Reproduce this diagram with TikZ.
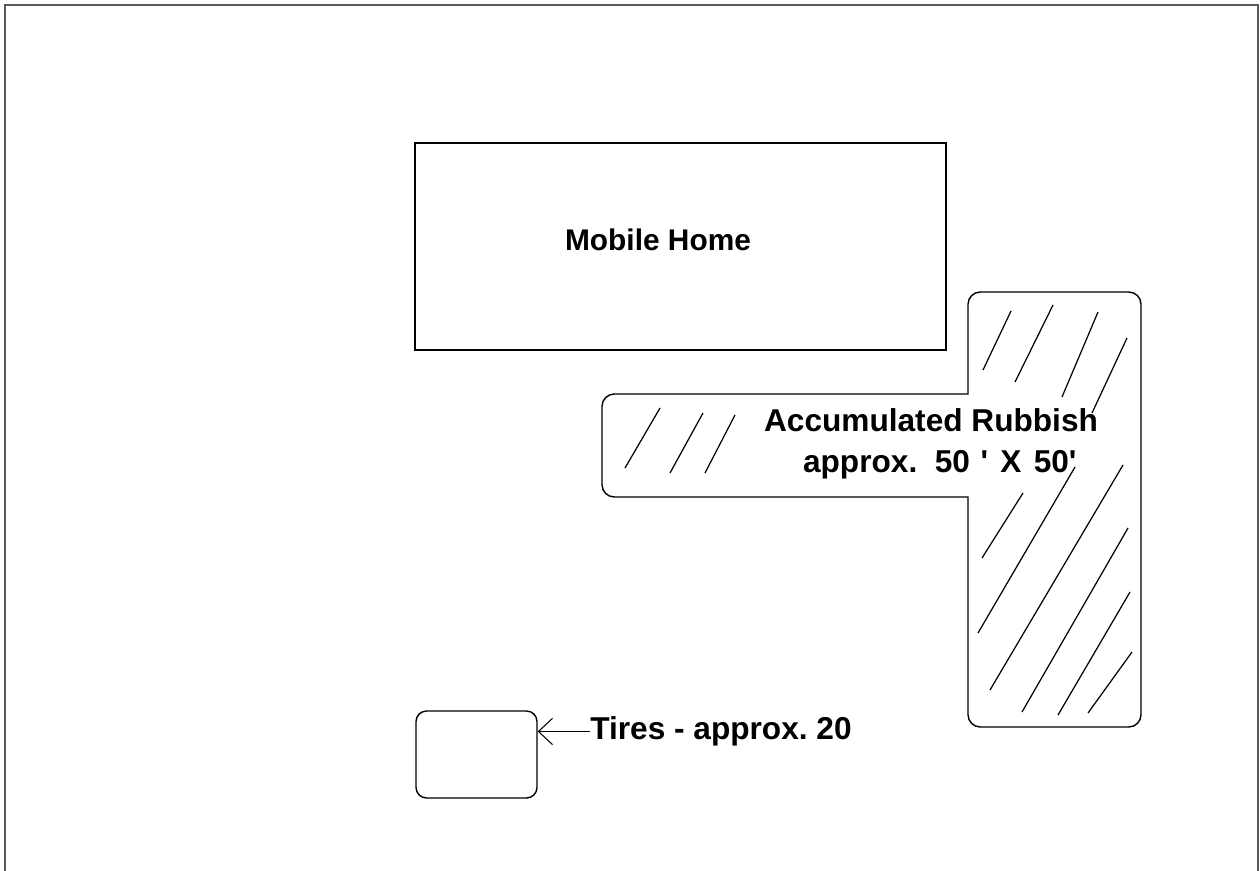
\documentclass[tikz,border=0pt]{standalone}
\usepackage{fontspec}
\setmainfont{Liberation Sans}
\usepackage{tikz}
\usetikzlibrary{arrows.meta}

\tikzset{
  outline/.style={draw=black, line width=0.8pt},
  lbl/.style={font=\fontsize{18}{19}\selectfont\bfseries, inner sep=0pt, align=center},
  hatch/.style={black, line width=0.7pt},
}
\frenchspacing

\begin{document}
\begin{tikzpicture}[x=0.02cm, y=-0.02cm]

\useasboundingbox (0,0) rectangle (1260,871);

% Page frame
\draw[black!65, line width=1pt] (5,871) -- (5,5) -- (1258,5) -- (1258,871);

% Mobile Home
\def\MHx{415}  % left
\def\MHy{143}  % top
\draw[outline] (\MHx,\MHy) rectangle (946,350);
\node[lbl, font=\fontsize{17}{19}\selectfont\bfseries] (home) at (658,240) {Mobile Home};

% Rubbish area (L shape)
\draw[outline] (968,394) [rounded corners=7pt] -- (968,292) -- (1141,292) -- (1141,727)
  -- (968,727) [sharp corners] -- (968,497) [rounded corners=7pt] -- (602,497)
  -- (602,394) [sharp corners] -- cycle;

% Hatching
\foreach \xa/\ya/\xb/\yb in {983/370/1011/311, 1015/382/1053/305, 1062/397/1098/312,
    1092/413/1127/338, 982/558/1023/493, 978/633/1075/467, 990/690/1123/465,
    1022/712/1128/528, 1058/715/1130/592, 1088/713/1132/652,
    625/468/660/408, 670/473/703/413, 705/473/735/415}
  \draw[hatch] (\xa,\ya) -- (\xb,\yb);

\node[lbl, font=\fontsize{18}{23}\selectfont\bfseries] (rubbish) at (931,444)
  {Accumulated Rubbish\\\hspace{10pt}approx.\hspace{10pt}50\hspace{6pt}\textquotesingle\hspace{7pt}X\hspace{7pt}50\textquotesingle};

% Tires
\node[outline, rounded corners=6pt, minimum width=2.42cm, minimum height=1.74cm] (tirepile) at (476.5,754.5) {};
\node[lbl, anchor=mid west] (tirelbl) at (590,735) {Tires - approx. 20};
\draw[line width=0.6pt, -{Straight Barb[length=8pt, width=15pt]}] (tirelbl.west) -- (tirelbl.west -| tirepile.east);

\end{tikzpicture}
\end{document}
